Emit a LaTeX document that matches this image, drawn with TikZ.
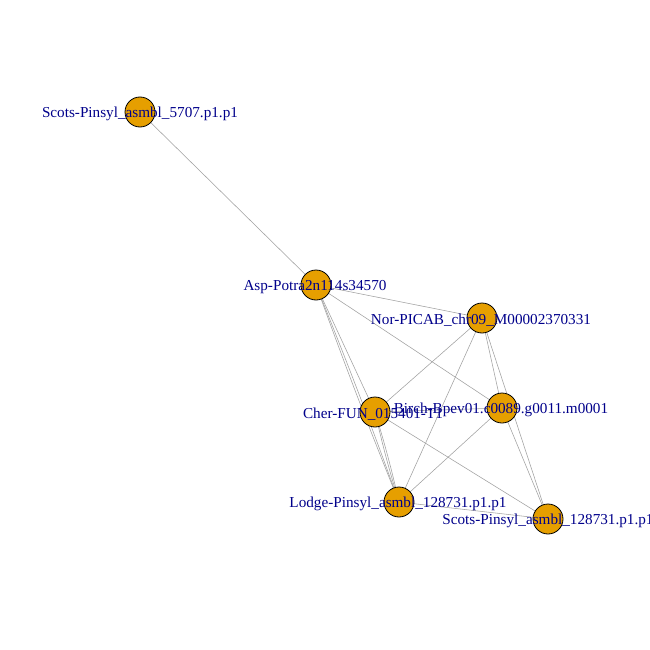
\documentclass[tikz,border=0pt]{standalone}
\usepackage{fontspec}
\setmainfont{Liberation Serif}
\usetikzlibrary{backgrounds}
\definecolor{vfill}{RGB}{230,159,0}
\definecolor{lblue}{RGB}{0,0,139}
\definecolor{egray}{RGB}{160,160,160}
\begin{document}
\begin{tikzpicture}[x=1pt,y=-1pt,
  vert/.style={circle,draw=black,line width=0.8pt,fill=vfill,minimum size=30pt,inner sep=0pt},
  lbl/.style={text=lblue,font=\fontsize{15.2}{18}\selectfont,inner sep=0pt,anchor=center},
  edge/.style={draw=egray,line width=0.55pt}]
\useasboundingbox (0,0) rectangle (650,650);
\node[vert] (s5707) at (140,112) {};
\node[vert] (asp) at (316,285) {};
\node[vert] (nor) at (482,318) {};
\node[vert] (birch) at (502,408) {};
\node[vert] (cher) at (375,412) {};
\node[vert] (lodge) at (399,502) {};
\node[vert] (s128) at (548,519) {};
\begin{pgfonlayer}{background}
\fill[white] (0,0) rectangle (650,650);
\draw[edge] (s5707.center) -- (asp.center);
\draw[edge] (asp.center) -- (nor.center);
\draw[edge] (asp.center) -- (birch.center);
\draw[edge] (asp.center) -- (cher.center);
\draw[edge] (asp.center) to[bend left=1] (lodge.center);
\draw[edge] (asp.center) to[bend right=1] (lodge.center);
\draw[edge] (nor.center) -- (cher.center);
\draw[edge] (nor.center) -- (lodge.center);
\draw[edge] (nor.center) -- (birch.center);
\draw[edge] (nor.center) -- (s128.center);
\draw[edge] (birch.center) -- (cher.center);
\draw[edge] (birch.center) -- (lodge.center);
\draw[edge] (birch.center) -- (s128.center);
\draw[edge] (cher.center) to[bend left=2] (lodge.center);
\draw[edge] (cher.center) to[bend right=2] (lodge.center);
\draw[edge] (cher.center) -- (s128.center);
\draw[edge] (lodge.center) -- (s128.center);
\end{pgfonlayer}
\node[lbl] (l5707) at (140,114) {Scots-Pinsyl\_asmbl\_5707.p1.p1};
\node[lbl] (lasp) at (315,287) {Asp-Potra2n114s34570};
\node[lbl] (lnor) at (481,320) {Nor-PICAB\_chr09\_M00002370331};
\node[lbl] (lbirch) at (501,410) {Birch-Bpev01.c0089.g0011.m0001};
\node[lbl] (lcher) at (373,414) {Cher-FUN\_015401-T1};
\node[lbl] (llodge) at (398,504) {Lodge-Pinsyl\_asmbl\_128731.p1.p1};
\node[lbl] (ls128) at (548,521) {Scots-Pinsyl\_asmbl\_128731.p1.p1};
\end{tikzpicture}
\end{document}
